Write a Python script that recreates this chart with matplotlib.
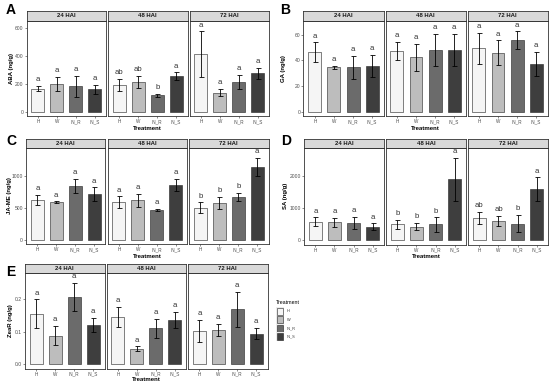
import matplotlib
matplotlib.use("Agg")
import matplotlib.pyplot as plt
from matplotlib.patches import Rectangle
import numpy as np

plt.rcParams['font.family'] = ['Liberation Sans', 'DejaVu Sans']

W, H = 550, 386

treatments = ['H', 'W', 'IN_R', 'IN_S']
times = ['24 HAI', '48 HAI', '72 HAI']
fills = ['#F5F5F5', '#BDBDBD', '#6B6B6B', '#3E3E3E']

# means / errors / letters, rows = 24, 48, 72 HAI
aba_mean = [[165, 200, 182, 160], [193, 212, 118, 255], [412, 137, 212, 277]]
aba_se = [[20, 50, 75, 32], [45, 45, 10, 27], [165, 25, 50, 40]]
aba_let = [['a', 'a', 'a', 'a'], ['ab', 'ab', 'b', 'a'], ['a', 'a', 'a', 'a']]

ga_mean = [[46.5, 34.5, 34.5, 35.5], [47.5, 42.5, 48, 48], [49.5, 46, 55.5, 37]]
ga_se = [[7.5, 1, 9, 8.5], [7, 10.5, 12.5, 12.5], [12, 9.5, 7, 9.5]]
ga_let = [['a'] * 4, ['a'] * 4, ['a'] * 4]

ja_mean = [[625, 585, 840, 710], [585, 620, 466, 860], [505, 575, 670, 1140]]
ja_se = [[75, 15, 110, 110], [95, 100, 15, 90], [80, 100, 65, 145]]
ja_let = [['a'] * 4, ['a'] * 4, ['b', 'b', 'b', 'a']]

sa_mean = [[575, 555, 525, 415], [500, 420, 485, 1890], [675, 600, 510, 1585]]
sa_se = [[130, 140, 190, 105], [140, 110, 220, 670], [190, 155, 270, 360]]
sa_let = [['a'] * 4, ['b', 'b', 'b', 'a'], ['ab', 'ab', 'b', 'a']]

zr_mean = [[0.155, 0.088, 0.207, 0.121], [0.145, 0.047, 0.110, 0.137], [0.103, 0.105, 0.169, 0.094]]
zr_se = [[0.045, 0.030, 0.043, 0.022], [0.031, 0.008, 0.030, 0.024], [0.034, 0.019, 0.053, 0.017]]
zr_let = [['a'] * 4, ['a'] * 4, ['a'] * 4]

panels = [
    dict(tag='A', ylab='ABA (ng/g)', m=aba_mean, s=aba_se, l=aba_let, top=655,
         yt=[0, 200, 400, 600], ytl=['0', '200', '400', '600'],
         x0=26.5, fw=79.5, st=11, pt=20.5, pb=116, tag_xy=(11, 10), ylab_x=12, xlab_y=128.5),
    dict(tag='B', ylab='GA (ng/g)', m=ga_mean, s=ga_se, l=ga_let, top=71,
         yt=[0, 20, 40, 60], ytl=['0', '20', '40', '60'],
         x0=303.5, fw=80, st=11, pt=20.5, pb=116, tag_xy=(285, 10), ylab_x=283.5, xlab_y=128.5),
    dict(tag='C', ylab='JA-ME (ng/g)', m=ja_mean, s=ja_se, l=ja_let, top=1440,
         yt=[0, 500, 1000], ytl=['0', '500', '1000'],
         x0=26, fw=79.5, st=139, pt=148, pb=244, tag_xy=(11, 141), ylab_x=10, xlab_y=256),
    dict(tag='D', ylab='SA (ng/g)', m=sa_mean, s=sa_se, l=sa_let, top=2860,
         yt=[0, 1000, 2000], ytl=['0', '1000', '2000'],
         x0=304, fw=80, st=138.5, pt=148, pb=244.5, tag_xy=(286, 141), ylab_x=285, xlab_y=256),
    dict(tag='E', ylab='ZeaR (ng/g)', m=zr_mean, s=zr_se, l=zr_let, top=0.282,
         yt=[0, 0.1, 0.2], ytl=['0.0', '0.1', '0.2'],
         x0=25, fw=79.5, st=263.5, pt=272.7, pb=368.5, tag_xy=(11, 272), ylab_x=10.5, xlab_y=379.5),
]


def fig_rect(x0, y0, x1, y1):
    # pixel box (top-left origin) -> figure fraction
    return [x0 / W, 1 - y1 / H, (x1 - x0) / W, (y1 - y0) / H]


fig = plt.figure(figsize=(W / 100, H / 100), dpi=100)
edge = '#333333'
x = np.arange(1, 5)

for p in panels:
    ylo = -p['top'] * 0.05 / 1.05
    for k, t in enumerate(times):
        fx0 = p['x0'] + k * (p['fw'] + 2)
        fx1 = fx0 + p['fw']
        ax = fig.add_axes(fig_rect(fx0, p['pt'], fx1, p['pb']))
        m = np.array(p['m'][k])
        s = np.array(p['s'][k])
        ax.bar(x, m, width=0.68, color=fills, edgecolor='#222222', linewidth=0.4, zorder=2)
        ax.errorbar(x, m, yerr=s, fmt='none', ecolor='black', elinewidth=0.6,
                    capsize=1.8, capthick=0.6, zorder=3)
        for xi, mi, si, li in zip(x, m, s, p['l'][k]):
            ax.annotate(li, (xi, mi + si), xytext=(0, 2.0), textcoords='offset points',
                        ha='center', va='bottom', fontsize=5.6, color='#333333')
        ax.set_xlim(0.4, 4.6)
        ax.set_ylim(ylo, p['top'])
        ax.set_xticks(x)
        ax.set_xticklabels(treatments, fontsize=3.3, color='#4D4D4D')
        ax.tick_params(axis='both', length=1.5, width=0.4, color=edge, pad=0.8)
        if k == 0:
            ax.set_yticks(p['yt'])
            ax.set_yticklabels(p['ytl'], fontsize=3.6, color='#4D4D4D')
        else:
            ax.set_yticks([])
        for sp in ax.spines.values():
            sp.set_color(edge)
            sp.set_linewidth(0.6)

        sax = fig.add_axes(fig_rect(fx0, p['st'], fx1, p['pt']))
        sax.set_facecolor('#D9D9D9')
        sax.set_xticks([])
        sax.set_yticks([])
        for sp in sax.spines.values():
            sp.set_color(edge)
            sp.set_linewidth(0.6)
        sax.text(0.5, 0.5, t, ha='center', va='center', fontsize=4.3,
                 fontweight='bold', color='#1A1A1A', transform=sax.transAxes)

    # panel letter, axis titles
    tx, ty = p['tag_xy']
    fig.text(tx / W, 1 - ty / H, p['tag'], ha='center', va='center',
             fontsize=10, fontweight='bold')
    fig.text(p['ylab_x'] / W, 1 - (p['pt'] + p['pb']) / 2 / H, p['ylab'],
             rotation=90, ha='center', va='center', fontsize=4.3, fontweight='bold')
    xc = (p['x0'] + p['x0'] + 3 * p['fw'] + 4) / 2
    fig.text(xc / W, 1 - p['xlab_y'] / H, 'Treatment', ha='center', va='center',
             fontsize=4.3, fontweight='bold')

# legend
fig.text(276 / W, 1 - 303 / H, 'Treatment', ha='left', va='center', fontsize=3.8)
key_h = 8.3
for i, (lab, c) in enumerate(zip(treatments, fills)):
    ky = 307.3 + i * key_h
    fig.add_artist(Rectangle((276 / W, 1 - (ky + key_h) / H), 8 / W, key_h / H,
                             transform=fig.transFigure, facecolor='#EBEBEB',
                             edgecolor='none'))
    fig.add_artist(Rectangle((276.7 / W, 1 - (ky + key_h - 0.7) / H), 6.6 / W, (key_h - 1.4) / H,
                             transform=fig.transFigure, facecolor=c,
                             edgecolor='#222222', linewidth=0.4))
    fig.text(286.5 / W, 1 - (ky + key_h / 2) / H, lab, ha='left', va='center',
             fontsize=2.8, color='#333333')

fig.savefig('out.png', dpi=100)
